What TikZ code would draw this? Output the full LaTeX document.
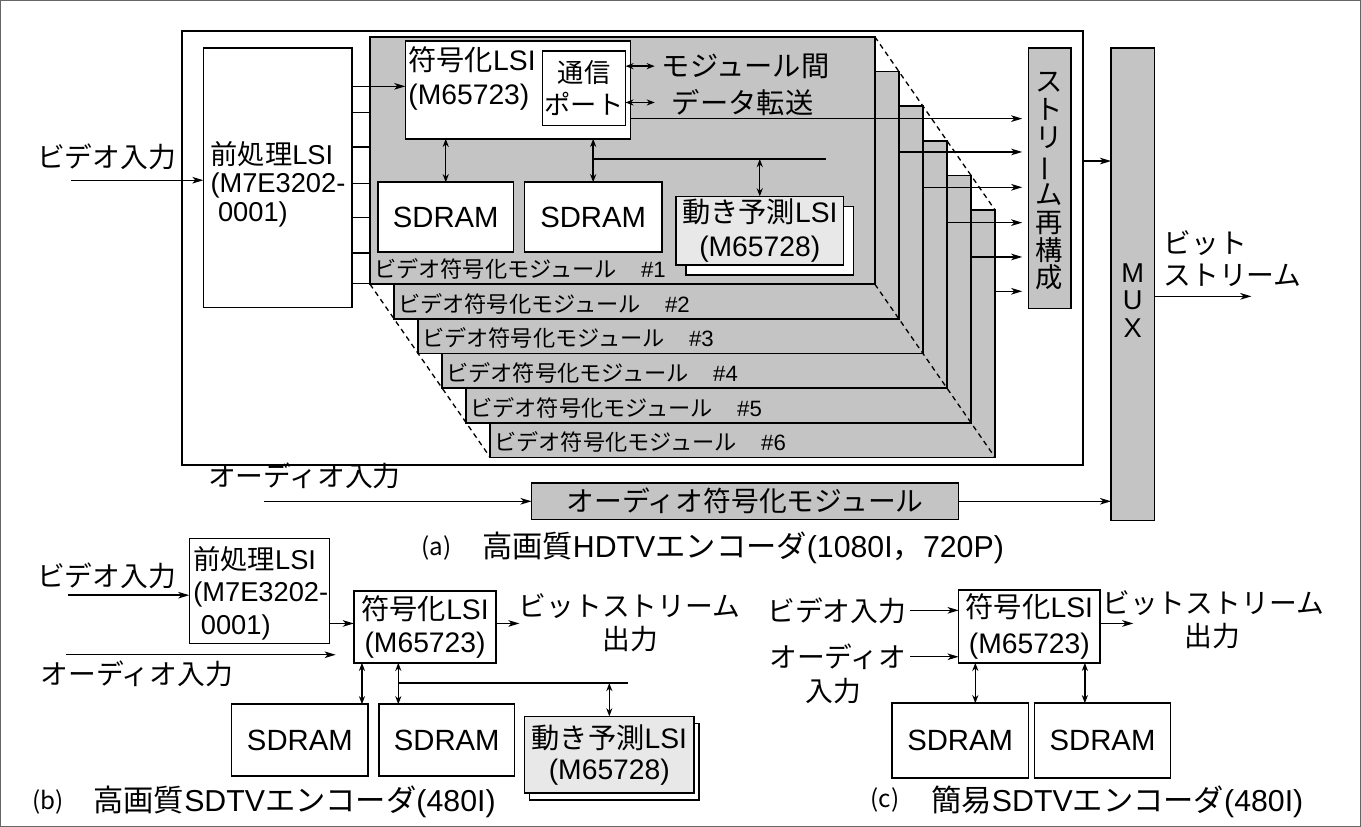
\documentclass[tikz,border=0pt]{standalone}
\usepackage{fontspec}
\usepackage{graphicx}
\setmainfont{Noto Sans CJK JP}
\newfontfamily\latf{Liberation Sans}
\newcommand\lsf[1]{{\latf #1}}
\usetikzlibrary{arrows.meta}
\begin{document}
\begin{tikzpicture}[x=1pt,y=-1pt,
  every node/.style={inner sep=0pt, outer sep=0pt},
  box/.style={draw=black, line width=1.5pt, fill=white},
  gbox/.style={draw=black, line width=1.5pt, fill=black!23},
  lbox/.style={draw=black, line width=1.5pt, fill=black!9},
  conn/.style={line width=1.4pt},
  arr/.style={conn,-{Stealth[length=11pt,width=6.5pt,inset=3pt]}},
  darr/.style={conn,{Stealth[length=8pt,width=6pt,inset=2.5pt]}-{Stealth[length=8pt,width=6pt,inset=2.5pt]}},
  txt/.style={font=\fontsize{27.5}{32}\selectfont},
  t28/.style={font=\fontsize{28}{34}\selectfont},
  modlab/.style={font=\fontsize{22}{24}\selectfont},
  captxt/.style={font=\fontsize{30}{32}\selectfont},
  caplbl/.style={font=\fontsize{24}{26}\selectfont},
  sdf/.style={font=\latf\fontsize{29}{32}\selectfont},
  dsh/.style={line width=1.3pt, dash pattern=on 5pt off 4pt}
]
% frames
\node[draw=black!60, line width=1pt, minimum width=1347pt, minimum height=818pt] (outer) at (681.5,417) {};
\node[draw=black, line width=1.6pt, minimum width=892pt, minimum height=430pt] (frameA) at (634,253) {};

% ---------- (a) ----------
\node[box, minimum width=147pt, minimum height=257pt] (pre) at (282.5,183.5) {};
\node[font=\fontsize{27}{28}\selectfont, anchor=west, align=left] (pret) at (216,190) {前処理\lsf{LSI}\\\lsf{(M7E3202-}\\\lsf{\ 0001)}};
\node[txt] (vin) at (113,163) {ビデオ入力};
\coordinate (vs) at (78,186);
\draw[arr] (vs) -- (pre.west |- vs);

\foreach \k/\n in {5/6,4/5,3/4,2/3,1/2,0/1}{
  \node[gbox, minimum width=500pt, minimum height=245pt, anchor=north west] (m\k) at ({374+23.8*\k},{44+34.3*\k}) {};
  \node[modlab, anchor=west] (ml\k) at ({378+23.8*\k},{274+34.3*\k}) {ビデオ符号化モジュール\hspace{24pt}\lsf{\#\n}};
}
\draw[dsh] (m0.north east) -- (m5.north east);
\draw[dsh] (m0.south east) -- (m5.south east);
\draw[dsh] (m0.south west) -- (m5.south west);

% module #1 contents
\node[box, minimum width=223pt, minimum height=97pt] (lsi) at (520.5,96.5) {};
\node[t28, anchor=west, align=left] (lsit) at (412,85) {符号化\lsf{LSI}\\\lsf{(M65723)}};
\node[box, minimum width=82pt, minimum height=74pt, align=center, font=\fontsize{26}{32}\selectfont] (port) at (586,95) {通信\\ポート};
\coordinate (pe1) at (656,73);
\coordinate (pe2) at (656,109);
\draw[darr] (port.east |- pe1) -- (pe1);
\draw[darr] (port.east |- pe2) -- (pe2);
\node[t28, anchor=west] (mt1) at (663,73) {モジュール間};
\node[t28, anchor=west] (mt2) at (673,109) {データ転送};

\node[box, sdf, minimum width=134pt, minimum height=69pt] (sd1) at (449,222.5) {SDRAM};
\node[box, sdf, minimum width=136pt, minimum height=69pt] (sd2) at (595,222.5) {SDRAM};
\draw[darr] (sd1.north |- lsi.south) -- (sd1.north);
\draw[darr] (sd2.north |- lsi.south) -- (sd2.north);
\coordinate (me) at (826,165);
\draw[conn] (sd2.north |- me) -- (me);
\node[box, minimum width=166pt, minimum height=68pt] (mosh) at (770,246) {};
\node[lbox, minimum width=166pt, minimum height=68pt, align=center, font=\fontsize{28}{33}\selectfont] (mo) at (760,236) {動き予測\lsf{LSI}\\\lsf{(M65728)}};
\draw[darr] (mo.north |- me) -- (mo.north);

% pre -> modules
\draw[arr] (pre.east |- 0,93) -- (lsi.west |- 0,93);
\foreach \yy in {119,153,189,223,258,288}{
  \draw[conn] (pre.east |- 0,\yy) -- (m0.west |- 0,\yy);
}

% stream reconstruction
\node[gbox, minimum width=42pt, minimum height=258pt] (sr) at (1047,184) {};
\node[font=\fontsize{27}{27.5}\selectfont, align=center] (srt) at (1047,187) {ス\\ト\\リ\\\rotatebox[origin=c]{90}{ー}\\ム\\再\\構\\成};
\coordinate (srin) at ([xshift=-6pt]sr.west);
\draw[arr] (lsi.east |- 0,125) -- (srin |- 0,125);
\draw[arr] (m1.east |- 0,158) -- (srin |- 0,158);
\draw[arr] (m2.east |- 0,193) -- (srin |- 0,193);
\draw[arr] (m3.east |- 0,228) -- (srin |- 0,228);
\draw[arr] (m4.east |- 0,262) -- (srin |- 0,262);
\draw[arr] (m5.east |- 0,296) -- (srin |- 0,296);

% MUX
\node[gbox, minimum width=43pt, minimum height=468pt] (mux) at (1129.5,289) {};
\node[font=\latf\fontsize{27}{27}\selectfont] (muxm) at (1129.5,278) {M};
\node[font=\latf\fontsize{27}{27}\selectfont] (muxu) at (1129.5,305) {U};
\node[font=\latf\fontsize{27}{27}\selectfont] (muxx) at (1129.5,332) {X};
\draw[arr] (frameA.east |- 0,167) -- (mux.west |- 0,167);
\coordinate (bse) at (1247,301);
\draw[arr] (mux.east |- bse) -- (bse);
\node[txt, anchor=west] (bs1) at (1160,248) {ビット};
\node[txt, anchor=west] (bs2) at (1160,280) {ストリーム};

% audio
\node[txt] (ain) at (309,479) {オーディオ入力};
\node[gbox, txt, minimum width=423pt, minimum height=36pt] (aud) at (745.5,504) {オーディオ符号化モジュール};
\coordinate (as) at (269,504);
\draw[arr] (as) -- (aud.west);
\draw[arr] (aud.east) -- (mux.west |- aud.east);

\node[caplbl] (capa1) at (440,550) {(a)};
\node[captxt, anchor=west] (capa2) at (485,550) {高画質\lsf{HDTV}エンコーダ\lsf{(1080I}，\lsf{720P)}};

% ---------- (b) ----------
\node[box, minimum width=139pt, minimum height=104pt] (preb) at (264.5,593) {};
\node[font=\fontsize{27}{32}\selectfont, anchor=west, align=left] (prebt) at (199,595) {前処理\lsf{LSI}\\\lsf{(M7E3202-}\\\lsf{\ 0001)}};
\node[txt] (vinb) at (113,578) {ビデオ入力};
\coordinate (vsb) at (75,597);
\draw[arr] (vsb) -- (preb.west |- vsb);
\node[box, minimum width=141pt, minimum height=71pt, align=center, font=\fontsize{28}{33}\selectfont] (lsib) at (428.5,628.5) {符号化\lsf{LSI}\\\lsf{(M65723)}};
\draw[arr] (preb.east |- 0,625) -- (lsib.west |- 0,625);
\coordinate (asb) at (73,656);
\coordinate (ase) at (340,656);
\draw[arr] (asb) -- (ase);
\node[txt] (ainb) at (143,675) {オーディオ入力};
\coordinate (bsb) at (522,625);
\draw[arr] (lsib.east |- bsb) -- (bsb);
\node[txt] (bsbt1) at (631,608) {ビットストリーム};
\node[txt] (bsbt2) at (632,640) {出力};
\node[box, sdf, minimum width=135pt, minimum height=71pt] (sdb1) at (304.5,740.5) {SDRAM};
\node[box, sdf, minimum width=134pt, minimum height=71pt] (sdb2) at (450,740.5) {SDRAM};
\coordinate (db1) at ([xshift=-6pt]sdb1.north east);
\coordinate (db2) at ([xshift=19pt]sdb2.north west);
\draw[darr] (db1 |- lsib.south) -- (db1);
\draw[darr] (db2 |- lsib.south) -- (db2);
\coordinate (meb) at (629,684);
\draw[conn] (db2 |- meb) -- (meb);
\node[box, minimum width=168pt, minimum height=76pt] (mobsh) at (616,762) {};
\node[lbox, minimum width=168pt, minimum height=76pt, align=center, font=\fontsize{28}{31}\selectfont] (mob) at (611,755) {動き予測\lsf{LSI}\\\lsf{(M65728)}};
\draw[darr] (mob.north |- meb) -- (mob.north);
\node[caplbl] (capb1) at (55,802) {(b)};
\node[captxt, anchor=west] (capb2) at (100,802) {高画質\lsf{SDTV}エンコーダ\lsf{(480I)}};

% ---------- (c) ----------
\node[box, minimum width=140pt, minimum height=72pt, align=center, font=\fontsize{28}{35}\selectfont] (lsic) at (1027,628) {符号化\lsf{LSI}\\\lsf{(M65723)}};
\node[txt, anchor=east] (vinc) at (905,612) {ビデオ入力};
\draw[arr] ([xshift=4pt]vinc.east) -- (vinc.east -| lsic.west);
\node[txt, anchor=east] (ainc) at (905,658) {オーディオ};
\draw[arr] ([xshift=4pt]ainc.east) -- (ainc.east -| lsic.west);
\node[txt] (ainc2) at (833,692) {入力};
\coordinate (bsc) at (1130,625);
\draw[arr] (lsic.east |- bsc) -- (bsc);
\node[txt] (bsct1) at (1209,605) {ビットストリーム};
\node[txt] (bsct2) at (1208,637) {出力};
\node[box, sdf, minimum width=135pt, minimum height=74pt] (sdc1) at (958.5,741) {SDRAM};
\node[box, sdf, minimum width=135pt, minimum height=74pt] (sdc2) at (1099.5,741) {SDRAM};
\coordinate (dc1) at ([xshift=15pt]sdc1.north);
\coordinate (dc2) at ([xshift=-17.5pt]sdc2.north);
\draw[darr] (dc1 |- lsic.south) -- (dc1);
\draw[darr] (dc2 |- lsic.south) -- (dc2);
\node[caplbl] (capc1) at (884,800) {(c)};
\node[captxt, anchor=west] (capc2) at (930,802) {簡易\lsf{SDTV}エンコーダ\lsf{(480I)}};
\end{tikzpicture}
\end{document}
